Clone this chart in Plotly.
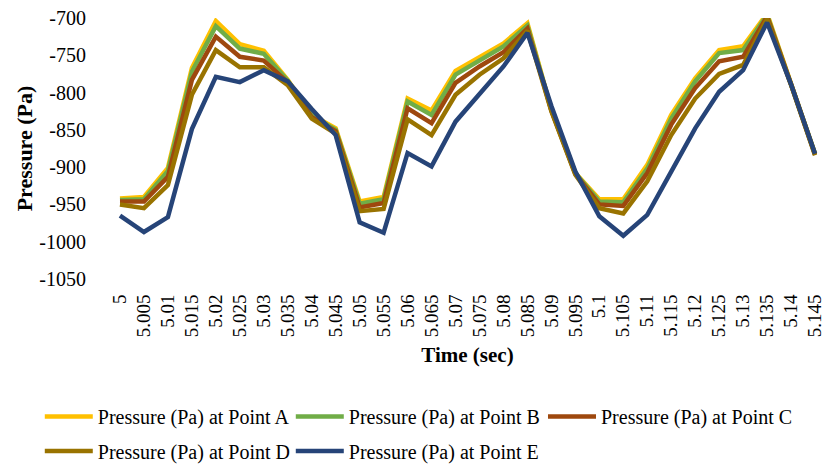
import plotly.graph_objects as go

# Sample times (s), kept as category labels
time_labels = ["5", "5.005", "5.01", "5.015", "5.02", "5.025", "5.03", "5.035", "5.04", "5.045",
               "5.05", "5.055", "5.06", "5.065", "5.07", "5.075", "5.08", "5.085", "5.09", "5.095",
               "5.1", "5.105", "5.11", "5.115", "5.12", "5.125", "5.13", "5.135", "5.14", "5.145"]

# Pressure (Pa) at each monitoring point
point_a = [-942, -940, -901, -767, -704, -735, -744, -783, -830, -848,
           -946, -940, -808, -824, -771, -753, -734, -707, -823, -908,
           -943, -943, -897, -830, -781, -743, -738, -694, -787, -882]
point_b = [-944, -943, -905, -772, -711, -741, -748, -784, -831, -850,
           -949, -943, -812, -830, -776, -757, -738, -710, -823, -908,
           -946, -947, -902, -835, -785, -747, -743, -696, -788, -882]
point_c = [-946, -946, -913, -783, -725, -752, -757, -786, -833, -852,
           -954, -948, -821, -841, -787, -765, -746, -714, -824, -909,
           -950, -952, -908, -843, -794, -758, -752, -698, -789, -883]
point_d = [-950, -955, -924, -803, -743, -766, -766, -790, -835, -855,
           -959, -956, -836, -857, -803, -776, -754, -717, -825, -910,
           -955, -962, -919, -857, -808, -775, -763, -701, -790, -884]
point_e = [-965, -987, -967, -849, -779, -786, -770, -785, -822, -857,
           -974, -988, -881, -899, -839, -801, -765, -720, -818, -906,
           -966, -992, -964, -906, -848, -799, -770, -706, -789, -882]

series_names = ["Pressure (Pa) at Point A", "Pressure (Pa) at Point B", "Pressure (Pa) at Point C",
                "Pressure (Pa) at Point D", "Pressure (Pa) at Point E"]
series_values = [point_a, point_b, point_c, point_d, point_e]
series_colors = ["#FFC000", "#70AD47", "#9E480E", "#997300", "#264478"]
# legend boxes: A and B upper left, C upper right, D and E on the lower row
series_legend = ["legend", "legend", "legend3", "legend2", "legend2"]

y_ticks = [-1050, -1000, -950, -900, -850, -800, -750, -700]

FONT = "Liberation Serif"

fig = go.Figure()
for name, vals, color, leg in zip(series_names, series_values, series_colors, series_legend):
    fig.add_trace(go.Scatter(
        x=time_labels, y=vals, name=name, mode="lines",
        line=dict(color=color, width=4.5), legend=leg,
    ))

legend_common = dict(
    orientation="h", xanchor="left", yanchor="top",
    xref="container", yref="container",
    font=dict(family=FONT, size=20, color="black"),
    entrywidth=188, entrywidthmode="pixels", itemwidth=48,
    traceorder="normal", bgcolor="rgba(0,0,0,0)",
)

fig.update_layout(
    width=829, height=466,
    margin=dict(l=108, r=2, t=18, b=187, autoexpand=False),
    paper_bgcolor="white", plot_bgcolor="white",
    font=dict(family=FONT, color="black", size=19),
    showlegend=True,
    legend=dict(x=0.048, y=0.148, **legend_common),
    legend3=dict(x=0.655, y=0.148, **legend_common),
    legend2=dict(x=0.048, y=0.0742, **legend_common),
)

fig.update_xaxes(
    type="category", categoryorder="array", categoryarray=time_labels,
    range=[-0.5, len(time_labels) - 0.5], automargin=False,
    tickangle=-90, ticks="outside", ticklen=0, ticklabelstandoff=7,
    tickfont=dict(family=FONT, size=19, color="black"),
    showgrid=False, zeroline=False, showline=False,
    title=dict(text="<b>Time (sec)</b>", font=dict(family=FONT, size=21, color="black"), standoff=10),
)
fig.update_yaxes(
    range=[-1050, -700], tickvals=y_ticks, ticktext=[str(v) for v in y_ticks],
    automargin=False,
    ticks="outside", ticklen=0, ticklabelstandoff=17,
    tickfont=dict(family=FONT, size=20, color="black"),
    showgrid=False, zeroline=False, showline=False,
    title=dict(text="<b>Pressure (Pa)</b>", font=dict(family=FONT, size=22, color="black"), standoff=0),
)

fig.write_html("out.html")
